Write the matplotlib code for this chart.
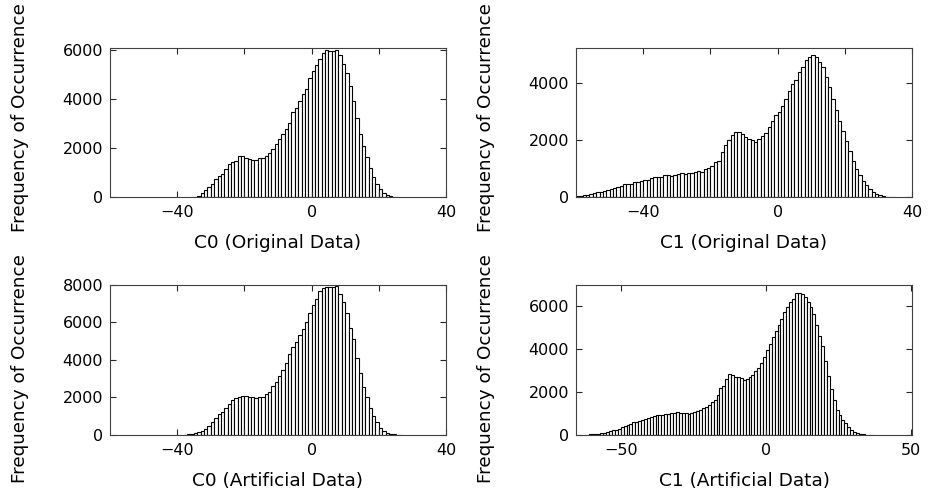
import matplotlib
matplotlib.use("Agg")
import matplotlib.pyplot as plt
import numpy as np

# histogram counts, one bin per unit
c0_orig_start = -36
c0_orig_counts = [5, 15, 40, 160, 270, 410, 540, 730, 865, 940,
                  1135, 1365, 1435, 1490, 1660, 1690, 1580, 1550, 1525, 1495,
                  1610, 1585, 1655, 1780, 1950, 2150, 2380, 2565, 2775, 3025,
                  3450, 3620, 3925, 4190, 4420, 4840, 5155, 5400, 5645, 5860,
                  5975, 5960, 5960, 5990, 5780, 5410, 5050, 4530, 3915, 3210,
                  2580, 2065, 1625, 1170, 810, 525, 310, 165, 80, 40, 15, 5]

c1_orig_start = -60
c1_orig_counts = [35, 47, 58, 81, 116, 151, 174, 186, 209, 244,
                  279, 314, 361, 395, 454, 465, 454, 523, 535, 570,
                  593, 605, 686, 698, 698, 698, 791, 779, 756, 791,
                  826, 837, 826, 849, 861, 884, 907, 896, 995, 1010,
                  1100, 1230, 1280, 1565, 1815, 1990, 2160, 2295, 2290, 2220,
                  2110, 2035, 2000, 1940, 2030, 2130, 2250, 2440, 2660, 2860,
                  2980, 3180, 3430, 3710, 3950, 4100, 4370, 4560, 4790, 4920,
                  4980, 4900, 4750, 4560, 4200, 3850, 3450, 3050, 2650, 2300,
                  1950, 1600, 1280, 1000, 780, 580, 420, 290, 190, 120,
                  70, 40, 20, 10, 5]

c0_art_start = -38
c0_art_counts = [5, 15, 35, 70, 125, 180, 295, 440, 660, 920,
                 1105, 1230, 1445, 1665, 1835, 1960, 2025, 2060, 2060, 2040,
                 2015, 1945, 2025, 2025, 2165, 2265, 2585, 2825, 3145, 3460,
                 3835, 4295, 4690, 4950, 5305, 5635, 6045, 6490, 6920, 7240,
                 7685, 7830, 7880, 7915, 7880, 7950, 7540, 7105, 6525, 5715,
                 5090, 4110, 3290, 2550, 2000, 1425, 1000, 660, 375, 215,
                 115, 55, 25, 10, 5]

c1_art_start = -62
c1_art_counts = [5, 16, 25, 40, 55, 75, 100, 120, 160, 210,
                 235, 275, 340, 400, 450, 510, 575, 610, 650, 700,
                 750, 790, 830, 875, 905, 925, 945, 965, 980, 1010,
                 1035, 1045, 1035, 1020, 1005, 985, 1000, 1050, 1100, 1165,
                 1235, 1300, 1390, 1520, 1640, 1870, 2170, 2300, 2600, 2850,
                 2800, 2720, 2680, 2640, 2570, 2600, 2710, 2815, 2965, 3130,
                 3355, 3650, 3955, 4260, 4590, 4860, 5135, 5435, 5720, 5985,
                 6205, 6355, 6615, 6650, 6580, 6430, 6215, 5950, 5645, 5135,
                 4625, 4155, 3460, 2745, 2150, 1625, 1150, 900, 695, 525,
                 350, 240, 140, 80, 36, 19, 10, 6, 3]

panels = [
    # start, counts, xlabel, xlim, xticks, minor xticks, ylim, yticks
    (c0_orig_start, c0_orig_counts, "C0 (Original Data)", (-60, 40),
     [-40, 0, 40], [-20, 20], 6070, [0, 2000, 4000, 6000]),
    (c1_orig_start, c1_orig_counts, "C1 (Original Data)", (-60, 40),
     [-40, 0, 40], [-20, 20], 5220, [0, 2000, 4000]),
    (c0_art_start, c0_art_counts, "C0 (Artificial Data)", (-60, 40),
     [-40, 0, 40], [-20, 20], 8000, [0, 2000, 4000, 6000, 8000]),
    (c1_art_start, c1_art_counts, "C1 (Artificial Data)", (-65.4, 50.3),
     [-50, 0, 50], [], 7000, [0, 2000, 4000, 6000]),
]

positions = [
    [0.1175, 0.601, 0.359, 0.3016],
    [0.6154, 0.601, 0.359, 0.3016],
    [0.1175, 0.120, 0.359, 0.3030],
    [0.6154, 0.120, 0.359, 0.3030],
]
# vertical centre of the y label, in axes fraction (top row / bottom row)
ylabel_centres = [0.535, 0.535, 0.44, 0.44]


def draw_hist(ax, start, counts, xlabel, xlim, xticks, minor, ytop, yticks,
              ylab_y):
    counts = np.asarray(counts)
    centers = start + 0.5 + np.arange(len(counts))
    ax.bar(centers, counts, width=1.0, color="white", edgecolor="black",
           linewidth=0.8)
    ax.set_xlim(*xlim)
    ax.set_ylim(0, ytop)
    ax.set_xticks(xticks)
    ax.set_xticks(minor, minor=True)
    ax.set_yticks(yticks)
    ax.tick_params(which="both", direction="in", top=True, right=True,
                   length=4, width=0.8, labelsize=11.5, color="#262626")
    ax.tick_params(axis="x", pad=6)
    ax.tick_params(axis="y", pad=5)
    for sp in ax.spines.values():
        sp.set_linewidth(0.8)
        sp.set_color("#404040")
    ax.set_xlabel(xlabel, fontsize=13.3)
    ax.set_ylabel("Frequency of Occurrence", fontsize=13.2)
    ax.xaxis.set_label_coords(0.5, -0.25)
    ax.yaxis.set_label_coords(-0.24, ylab_y)


fig = plt.figure(figsize=(9.36, 4.94), dpi=100)
for pos, spec, ylab_y in zip(positions, panels, ylabel_centres):
    ax = fig.add_axes(pos)
    draw_hist(ax, *spec, ylab_y)

fig.savefig("out.png", dpi=100)
